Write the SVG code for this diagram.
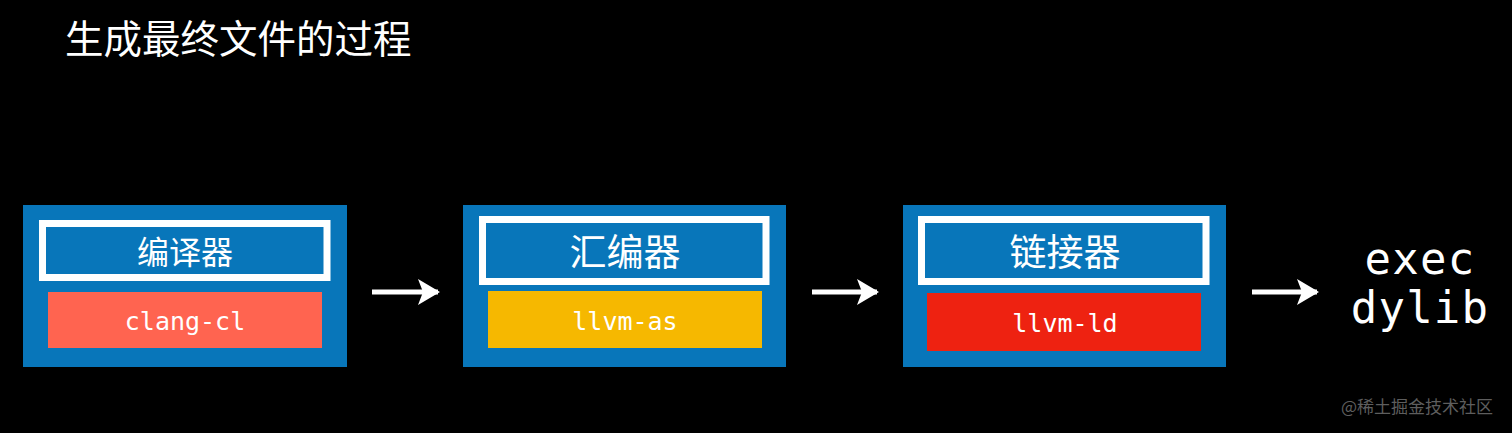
<svg xmlns="http://www.w3.org/2000/svg" width="1512" height="433" viewBox="0 0 1512 433">
<style>
.outer{fill:#0876BA}
.frame{fill:#0876BA;stroke:#FFFFFF;stroke-width:7}
.head{font-family:"Noto Sans CJK SC","Noto Sans",sans-serif;fill:#FFFFFF;text-anchor:middle}
.mono{font-family:"DejaVu Sans Mono","Liberation Mono",monospace;fill:#FFFFFF;text-anchor:middle;font-size:25px}
.big{font-family:"DejaVu Sans Mono","Liberation Mono",monospace;fill:#FFFFFF;text-anchor:middle;font-size:44px;letter-spacing:1.2px}
.arrow{stroke:#FFFFFF;stroke-width:5;fill:none}
</style>
<defs>
<marker id="ah" markerUnits="userSpaceOnUse" markerWidth="22" markerHeight="26" refX="20" refY="13" orient="auto">
<path d="M0,0 L22,13 L0,26 L5,13 Z" fill="#FFFFFF"/>
</marker>
</defs>
<rect width="1512" height="433" fill="#000000"/>
<text x="65" y="53" font-family="Noto Sans CJK SC,Noto Sans,sans-serif" font-size="38.5" fill="#FFFFFF">生成最终文件的过程</text>
<g id="compiler">
<rect class="outer" x="23" y="205" width="324" height="162"/>
<rect class="frame" x="42.5" y="223.5" width="284.5" height="54"/>
<text class="head" x="185" y="264" font-size="32">编译器</text>
<rect x="48" y="292" width="274" height="56" fill="#FF6450"/>
<text class="mono" x="185" y="330">clang-cl</text>
</g>
<g id="assembler">
<rect class="outer" x="463" y="205" width="323" height="162"/>
<rect class="frame" x="482.5" y="219.5" width="283.5" height="62"/>
<text class="head" x="625" y="266" font-size="37">汇编器</text>
<rect x="488" y="291" width="274" height="57" fill="#F6B800"/>
<text class="mono" x="625" y="330">llvm-as</text>
</g>
<g id="linker">
<rect class="outer" x="903" y="205" width="323" height="162"/>
<rect class="frame" x="921.5" y="219.5" width="284.5" height="62"/>
<text class="head" x="1065" y="266" font-size="37">链接器</text>
<rect x="927" y="293" width="274" height="58" fill="#EE2211"/>
<text class="mono" x="1065" y="332">llvm-ld</text>
</g>
<g id="output">
<text class="big" x="1420" y="274">exec</text>
<text class="big" x="1420" y="323">dylib</text>
</g>
<g id="connectors">
<line class="arrow" x1="372" y1="292" x2="438" y2="292" marker-end="url(#ah)"/>
<line class="arrow" x1="812" y1="292" x2="877" y2="292" marker-end="url(#ah)"/>
<line class="arrow" x1="1252" y1="292" x2="1317" y2="292" marker-end="url(#ah)"/>
</g>
<text x="1493" y="413" font-family="Noto Sans CJK SC,Noto Sans,sans-serif" font-size="17" fill="#5E5E5E" text-anchor="end">@稀土掘金技术社区</text>
</svg>
